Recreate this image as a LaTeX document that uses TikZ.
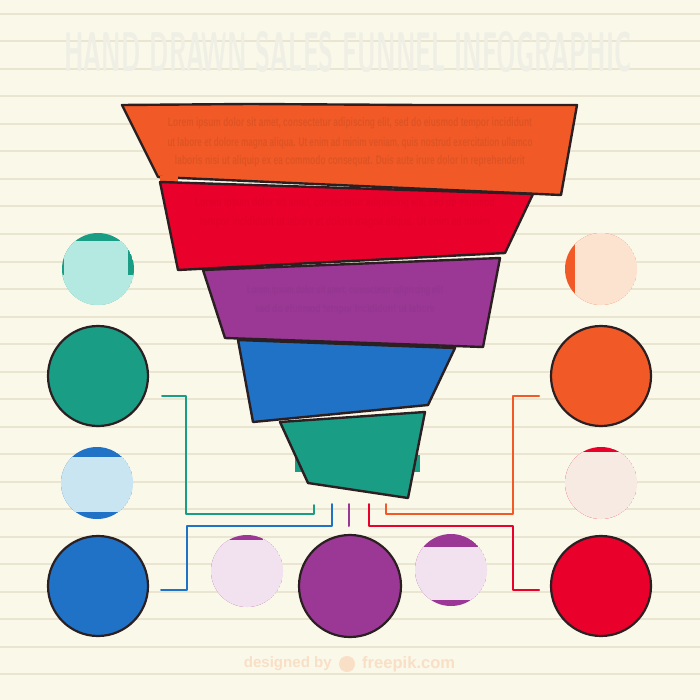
\documentclass[tikz,border=0pt]{standalone}
\usepackage{fontspec}
\setmainfont{Liberation Sans}
\usepackage{graphicx}
\definecolor{bg}{HTML}{FAF8E9}
\definecolor{rulec}{HTML}{E9E5D0}
\definecolor{fOrange}{HTML}{F15A27}
\definecolor{fRed}{HTML}{E9002B}
\definecolor{fPurple}{HTML}{9B3896}
\definecolor{fBlue}{HTML}{1F72C6}
\definecolor{fGreen}{HTML}{1A9D85}
\definecolor{ink}{HTML}{2B1F22}
\definecolor{titlec}{HTML}{EFEFE5}
\definecolor{footc}{HTML}{F9DFC6}
\definecolor{paleGreen}{HTML}{B4E9E1}
\definecolor{paleBlue}{HTML}{C9E5F1}
\definecolor{paleOrange}{HTML}{FCE3D0}
\definecolor{paleRed}{HTML}{F6EAE2}
\definecolor{palePurple}{HTML}{F2E1EE}
\tikzset{
  band/.style={draw=ink, line width=2.4pt, line join=round},
  bigdot/.style={circle, draw=ink, line width=2.2pt, minimum size=100pt, inner sep=0pt},
  link/.style={line width=2pt, line join=round, line cap=round},
  bandtext/.style={inner sep=0pt, font=\bfseries},
  foot/.style={inner sep=0pt, text=footc, font=\bfseries}
}
\begin{document}
\begin{tikzpicture}[x=1pt,y=-1pt]
\useasboundingbox (0,0) rectangle (700,700);
\fill[bg] (0,0) rectangle (700,700);
% ruled lines
\foreach \k in {0,...,24} {
  \draw[rulec, line width=2pt] (0,{14+27.5*\k}) -- (700,{14+27.5*\k});
}
% title
\node[inner sep=0pt, text=titlec] (title) at (348,52)
  {\resizebox{567pt}{40pt}{\sffamily\bfseries HAND DRAWN SALES FUNNEL INFOGRAPHIC}};

% funnel bands
\draw[band, fill=fOrange] (122,105) -- (250,104) -- (420,105) -- (577,105) -- (561,195) -- (158,177) -- cycle;
\fill[fOrange] (160,176) rectangle (178,183);
\node[bandtext, text=fOrange!92!black] (t1) at (350,123)
  {\resizebox{364pt}{9pt}{Lorem ipsum dolor sit amet, consectetur adipiscing elit, sed do eiusmod tempor incididunt}};
\node[bandtext, text=fOrange!92!black] (t2) at (350,143)
  {\resizebox{365pt}{9pt}{ut labore et dolore magna aliqua. Ut enim ad minim veniam, quis nostrud exercitation ullamco}};
\node[bandtext, text=fOrange!92!black] (t3) at (350,161)
  {\resizebox{350pt}{9pt}{laboris nisi ut aliquip ex ea commodo consequat. Duis aute irure dolor in reprehenderit}};

\draw[band, fill=fRed] (160,182) -- (533,194) -- (505,253) -- (178,270) -- cycle;
\node[bandtext, text=fRed!97!black] (t4) at (345,203)
  {\resizebox{300pt}{9pt}{Lorem ipsum dolor sit amet, consectetur adipiscing elit, sed do eiusmod}};
\node[bandtext, text=fRed!97!black] (t5) at (345,222)
  {\resizebox{290pt}{9pt}{tempor incididunt ut labore et dolore magna aliqua. Ut enim ad minim}};

\draw[band, fill=fPurple] (203,270) -- (500,258) -- (483,347) -- (225,338) -- cycle;
\node[bandtext, text=fPurple!96!black] (t6) at (345,291)
  {\resizebox{196pt}{8pt}{Lorem ipsum dolor sit amet, consectetur adipiscing elit}};
\node[bandtext, text=fPurple!96!black] (t7) at (345,310)
  {\resizebox{180pt}{8pt}{sed do eiusmod tempor incididunt ut labore}};

\fill[fGreen] (295,455) rectangle (420,472);
\draw[band, fill=fGreen] (280,422) -- (425,412) -- (408,498) -- (308,483) -- cycle;
\draw[band, fill=fBlue] (238,340) -- (455,348) -- (428,405) -- (253,422) -- cycle;

% big circles
\node[bigdot, fill=fGreen] (cG) at (98,376) {};
\node[bigdot, fill=fBlue] (cB) at (98,586) {};
\node[bigdot, fill=fOrange] (cO) at (601,376) {};
\node[bigdot, fill=fRed] (cR) at (601,586) {};
\node[bigdot, fill=fPurple, minimum size=102pt] (cP) at (350,586) {};

% small circles (icons masked)
\begin{scope}
  \clip (98,269) circle (36);
  \fill[fGreen] (98,269) circle (36);
  \fill[paleGreen] (64,241) rectangle (128,320);
  \fill[paleGreen] (55,275) rectangle (140,320);
\end{scope}
\begin{scope}
  \clip (97,483) circle (36);
  \fill[fBlue] (97,483) circle (36);
  \fill[paleBlue] (55,457) rectangle (140,512);
\end{scope}
\begin{scope}
  \clip (601,269) circle (36);
  \fill[fOrange] (601,269) circle (36);
  \fill[paleOrange] (575,225) rectangle (640,310);
\end{scope}
\begin{scope}
  \clip (601,483) circle (36);
  \fill[fRed] (601,483) circle (36);
  \fill[paleRed] (560,452) rectangle (640,520);
\end{scope}
\begin{scope}
  \clip (247,571) circle (36);
  \fill[fPurple] (247,571) circle (36);
  \fill[palePurple] (205,540) rectangle (284,610);
  \fill[palePurple] (205,530) rectangle (230,540);
  \fill[palePurple] (263,530) rectangle (284,540);
\end{scope}
\begin{scope}
  \clip (451,570) circle (36);
  \fill[fPurple] (451,570) circle (36);
  \fill[palePurple] (410,547) rectangle (490,600);
\end{scope}

% connector end points
\coordinate (gA) at (162,396);
\coordinate (gB) at (314,505);
\coordinate (bA) at (332,504);
\coordinate (bB) at (161,590);
\coordinate (pA) at (349,504);
\coordinate (pB) at (349,526);
\coordinate (rA) at (369,504);
\coordinate (rB) at (539,590);
\coordinate (oA) at (386,504);
\coordinate (oB) at (539,396);

\draw[link, fGreen] (gA) -- (186,396) -- (186,514) -- (314,514) -- (gB);
\draw[link, fBlue] (bA) -- (332,526) -- (187,526) -- (187,590) -- (bB);
\draw[link, fPurple] (pA) -- (pB);
\draw[link, fRed] (rA) -- (369,526) -- (513,526) -- (513,590) -- (rB);
\draw[link, fOrange] (oA) -- (386,514) -- (513,514) -- (513,396) -- (oB);

% footer
\node[foot, anchor=east] (f1) at (332,664) {\resizebox{88pt}{!}{designed by}};
\node[circle, fill=footc, minimum size=16pt, inner sep=0pt] (f2) at (347,664) {};
\node[foot, anchor=west] (f3) at (362,664) {\resizebox{93pt}{!}{freepik.com}};
\end{tikzpicture}
\end{document}
